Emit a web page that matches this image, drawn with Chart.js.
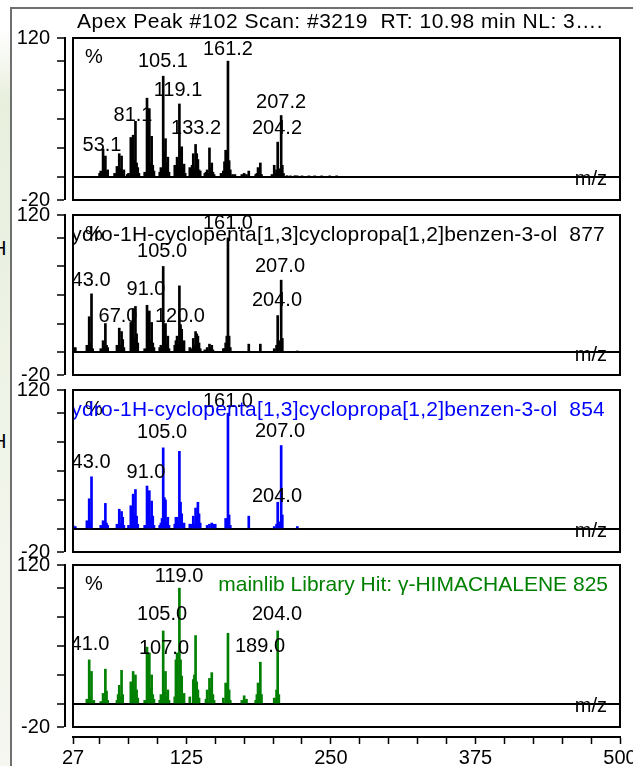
<!DOCTYPE html>
<html>
<head>
<meta charset="utf-8">
<script src="https://cdn.jsdelivr.net/npm/chart.js@4/dist/chart.umd.min.js"></script>
<style>
html, body { margin: 0; padding: 0; background: #fff; }
#page { position: relative; width: 633px; height: 766px; overflow: hidden; background: #fff; }
#shade { position: absolute; left: 0; top: 0; width: 11px; height: 766px;
  background: linear-gradient(to bottom, #ffffff 0px, #ffffff 30px, #e8efdd 100px, #eff4e8 420px, #f5f7f0 766px); }
#frame { position: absolute; left: 10px; top: 7px; width: 700px; height: 800px;
  border-left: 2px solid #6f6f6f; border-top: 2px solid #6f6f6f; }
canvas { position: absolute; left: 0; }
.cut { position: absolute; left: -8px; font: 20px 'Liberation Sans', Arial, sans-serif; line-height: 20px; color: #000; }
</style>
</head>
<body>
<div id="page">
  <div id="shade"></div>
  <div id="frame"></div>
  <div class="cut" style="top:238px">H</div>
  <div class="cut" style="top:431px">H</div>
  <canvas id="panel1" width="660" height="222" style="top:0px"></canvas>
  <canvas id="panel2" width="660" height="200" style="top:195px"></canvas>
  <canvas id="panel3" width="660" height="202" style="top:370px"></canvas>
  <canvas id="panel4" width="660" height="221" style="top:545px"></canvas>
</div>
<script>
const xMin = 27;
const xMax = 500;
const xTickValues = [27, 50, 75, 100, 125, 150, 175, 200, 225, 250, 275, 300, 325, 350, 375, 400, 425, 450, 475, 500];
const xTickLabels = [27, 125, 250, 375, 500];
const yMin = -20;
const yMax = 120;
const yTickValues = [-20, 0, 25, 50, 75, 100, 120];
const yTickLabels = [-20, 120];

// scan spectrum (apex peak #102)
const scanMz = [50, 51, 52, 53, 54, 55, 56, 57, 63, 65, 66, 67, 68, 69, 70, 71,
    74, 75, 77, 78, 79, 80, 81, 82, 83, 84, 89, 90, 91, 92, 93, 94, 95, 96, 97,
    102, 103, 104, 105, 106, 107, 108, 109, 110, 115, 116, 117, 118, 119, 120, 121, 122, 123, 124,
    128, 129, 130, 131, 132, 133, 134, 135, 136, 137, 141, 142, 143, 144, 145, 146, 147, 148, 149,
    155, 157, 158, 159, 160, 161, 162, 163, 165, 167, 173, 175, 177, 179,
    185, 186, 187, 188, 189, 190, 199, 201, 202, 203, 204, 205, 206, 207, 208, 209,
    212, 215, 219, 221, 225, 231, 236, 242, 249, 255];
const scanIntensity = [3, 5, 4, 24, 7, 18, 5, 6, 3, 9, 4, 20, 7, 18, 5, 6,
    2, 3, 34, 10, 36, 14, 48, 12, 8, 3, 4, 3, 68, 14, 59, 12, 35, 10, 5,
    4, 8, 6, 87, 22, 33, 12, 17, 4, 10, 6, 17, 8, 63, 24, 26, 8, 11, 3,
    8, 3, 10, 20, 8, 28, 20, 15, 6, 5, 3, 4, 6, 3, 25, 8, 12, 4, 2,
    3, 5, 13, 23, 10, 100, 14, 6, 2, 2, 2, 3, 2, 5,
    2, 3, 8, 3, 12, 2, 2, 10, 3, 6, 30, 7, 3, 53, 10, 3,
    1, 0.8, 1, 0.7, 0.6, 0.6, 0.5, 0.5, 0.5, 0.6];
const scanLabelText = ['161.2', '105.1', '119.1', '81.1', '53.1', '133.2', '207.2', '204.2'];
const scanLabelMz = [161.0, 104.8, 117.8, 78.9, 52.1, 133.4, 206.9, 203.4];
const scanLabelHeight = [110, 100, 75, 53, 27, 41.5, 64, 42];

// library hit 1 (877)
const hit1Mz = [27, 29, 39, 41, 42, 43, 44, 51, 53, 54, 55, 56, 57, 65, 66, 67, 68, 69, 70, 71,
    77, 78, 79, 80, 81, 82, 83, 89, 91, 92, 93, 94, 95, 96, 97,
    102, 103, 104, 105, 106, 107, 108, 109, 110, 115, 116, 117, 118, 119, 120, 121, 122, 123,
    128, 129, 131, 132, 133, 134, 135, 136, 137, 141, 143, 145, 146, 147, 148,
    157, 158, 159, 160, 161, 162, 163, 179, 189, 201, 203, 204, 205, 207, 208, 221];
const hit1Intensity = [3, 4, 6, 31, 8, 51, 3, 3, 10, 4, 25, 6, 4, 6, 3, 21, 6, 18, 11, 4,
    26, 10, 38, 12, 40, 16, 8, 3, 41, 12, 36, 10, 26, 8, 4,
    4, 6, 5, 75, 24, 25, 8, 14, 3, 6, 10, 14, 6, 58, 24, 20, 6, 10,
    4, 3, 12, 6, 18, 16, 14, 8, 3, 2, 4, 7, 4, 6, 2,
    3, 3, 8, 14, 100, 14, 4, 7, 7, 3, 6, 32, 10, 63, 12, 1];
const hit1LabelText = ['161.0', '105.0', '43.0', '91.0', '67.0', '120.0', '207.0', '204.0'];
const hit1LabelMz = [161.0, 104.0, 42.6, 90.1, 65.9, 119.5, 206.0, 203.4];
const hit1LabelHeight = [113, 88, 63, 55, 31, 31, 75, 45];

// library hit 2 (854)
const hit2Mz = [27, 29, 39, 41, 42, 43, 51, 53, 54, 55, 56, 57, 65, 67, 68, 69, 70, 71,
    75, 77, 78, 79, 80, 81, 82, 83, 89, 91, 92, 93, 94, 95, 96, 97,
    102, 103, 104, 105, 106, 107, 108, 109, 110, 115, 116, 117, 118, 119, 120, 121, 122, 123,
    128, 129, 131, 132, 133, 134, 135, 136, 137, 143, 145, 147, 148, 150,
    159, 160, 161, 162, 163, 179, 201, 203, 204, 205, 207, 208, 221];
const hit2Intensity = [3, 2, 7, 26, 5, 45, 3, 7, 3, 22, 5, 3, 4, 17, 5, 15, 10, 3,
    3, 20, 8, 30, 12, 34, 11, 4, 3, 37, 10, 33, 9, 24, 11, 3,
    3, 5, 9, 70, 27, 25, 6, 10, 3, 4, 10, 10, 5, 67, 23, 13, 4, 5,
    4, 4, 11, 4, 18, 10, 23, 13, 5, 3, 4, 5, 4, 4,
    9, 4, 100, 12, 3, 11, 2, 4, 23, 6, 72, 12, 2];
const hit2LabelText = ['161.0', '105.0', '43.0', '91.0', '207.0', '204.0'];
const hit2LabelMz = [161.0, 104.0, 42.6, 90.1, 206.0, 203.4];
const hit2LabelHeight = [110, 83, 57, 49, 84, 28];

// library hit 3 (gamma-himachalene, 825)
const hit3Mz = [39, 41, 42, 43, 45, 51, 53, 54, 55, 56, 57, 65, 66, 67, 68, 69, 70,
    77, 78, 79, 80, 81, 82, 83, 89, 91, 92, 93, 94, 95, 96, 97,
    102, 103, 104, 105, 106, 107, 108, 109, 110, 115, 116, 117, 118, 119, 120, 121, 122, 123,
    128, 131, 132, 133, 134, 135, 136, 142, 143, 145, 146, 147, 148, 149,
    157, 159, 160, 161, 162, 163, 173, 174, 175, 176, 177,
    185, 186, 187, 188, 189, 190, 201, 202, 203, 204, 205];
const hit3Intensity = [4, 38, 6, 28, 3, 2, 9, 3, 30, 11, 3, 3, 8, 16, 6, 29, 8,
    19, 6, 28, 10, 25, 12, 5, 3, 49, 14, 44, 13, 25, 8, 4,
    3, 8, 4, 63, 10, 28, 6, 12, 3, 6, 38, 44, 8, 100, 38, 24, 6, 9,
    6, 21, 25, 59, 19, 12, 5, 4, 12, 22, 14, 27, 8, 3,
    5, 18, 4, 61, 12, 3, 3, 2, 7, 3, 4,
    3, 8, 18, 6, 36, 8, 5, 4, 12, 63, 8];
const hit3LabelText = ['119.0', '105.0', '41.0', '107.0', '189.0', '204.0'];
const hit3LabelMz = [118.7, 104.0, 41.7, 105.7, 188.7, 203.4];
const hit3LabelHeight = [110, 77, 51, 48, 50, 77];

const fontFamily = "'Liberation Sans', Arial, sans-serif";
const textFont = `20px ${fontFamily}`;
const titleFont = `21px ${fontFamily}`;

const panelText = {
    id: 'panelText',
    afterDraw(chart, args, opts) {
        const { ctx, chartArea: area } = chart;
        const x = chart.scales.x;
        const y = chart.scales.y;

        const drawTitle = () => {
            ctx.save();
            ctx.font = titleFont;
            ctx.letterSpacing = opts.titleSpacing;
            ctx.fillStyle = opts.titleColor;
            ctx.textAlign = opts.titleAlign;
            ctx.fillText(opts.title, opts.titleX, area.top + opts.titleDy);
            ctx.restore();
        };

        ctx.save();
        ctx.font = textFont;
        ctx.textBaseline = 'middle';

        if (!opts.titleInside) {
            drawTitle();
        }

        ctx.beginPath();
        ctx.rect(area.left, area.top, area.right - area.left, area.bottom - area.top);
        ctx.clip();

        ctx.fillStyle = '#000';
        ctx.textAlign = 'left';
        ctx.fillText('%', area.left + 12, area.top + 19);

        ctx.textAlign = 'center';
        opts.labelText.forEach((text, i) => {
            ctx.fillText(text, x.getPixelForValue(opts.labelMz[i]), y.getPixelForValue(opts.labelHeight[i]));
        });

        if (opts.titleInside) {
            drawTitle();
        }

        ctx.fillStyle = '#000';
        ctx.textAlign = 'right';
        ctx.fillText('m/z', 607, y.getPixelForValue(0) + 3);
        ctx.restore();

        ctx.save();
        ctx.strokeStyle = '#000';
        ctx.lineWidth = 2;
        ctx.strokeRect(area.left, area.top, area.right - area.left, area.bottom - area.top);
        ctx.restore();
    },
};

function spectrumPanel(canvasId, mz, intensity, look) {
    const scales = {
        x: {
            type: 'linear',
            position: 'bottom',
            weight: 1,
            min: xMin,
            max: xMax,
            offset: false,
            display: look.showX,
            afterBuildTicks: (scale) => {
                scale.ticks = xTickValues.map((value) => ({ value }));
            },
            afterFit: (scale) => {
                scale.height = look.showX ? 29 : 0;
            },
            border: { display: true, color: '#000', width: 2 },
            grid: {
                offset: false,
                drawOnChartArea: false,
                drawTicks: true,
                tickLength: 7,
                tickColor: '#000',
                tickWidth: 1.5,
            },
            ticks: {
                autoSkip: false,
                maxRotation: 0,
                padding: 2,
                color: '#000',
                font: { family: fontFamily, size: 20 },
                callback: (value) => (xTickLabels.includes(value) ? String(value) : ''),
            },
        },
        y: {
            type: 'linear',
            position: 'left',
            weight: 1,
            min: yMin,
            max: yMax,
            afterBuildTicks: (scale) => {
                scale.ticks = yTickValues.map((value) => ({ value }));
            },
            afterFit: (scale) => {
                scale.width = 65;
            },
            border: { display: true, color: '#000', width: 2 },
            grid: {
                drawOnChartArea: true,
                drawTicks: true,
                tickLength: 8,
                tickColor: '#000',
                tickWidth: 1.5,
                color: (ctx) => (ctx.tick && ctx.tick.value === 0 ? '#000' : 'rgba(0,0,0,0)'),
                lineWidth: (ctx) => (ctx.tick && ctx.tick.value === 0 ? 2 : 0),
            },
            ticks: {
                autoSkip: false,
                padding: 7,
                color: '#000',
                font: { family: fontFamily, size: 20 },
                callback: (value) => (yTickLabels.includes(value) ? String(value) : ''),
            },
        },
        yGap: {
            axis: 'y',
            type: 'linear',
            position: 'left',
            weight: 0,
            display: true,
            grid: { display: false },
            border: { display: false },
            ticks: { display: false },
            afterFit: (scale) => {
                scale.width = 8;
            },
        },
    };

    if (look.showX) {
        scales.xGap = {
            axis: 'x',
            type: 'linear',
            position: 'bottom',
            weight: 0,
            display: true,
            grid: { display: false },
            border: { display: false },
            ticks: { display: false },
            afterFit: (scale) => {
                scale.height = 10;
            },
        };
    }

    return new Chart(document.getElementById(canvasId), {
        type: 'bar',
        data: {
            datasets: [{
                data: mz.map((m, i) => ({ x: m, y: intensity[i] })),
                xAxisID: 'x',
                yAxisID: 'y',
                backgroundColor: look.color,
                borderWidth: 0,
                barThickness: 2,
            }],
        },
        options: {
            responsive: false,
            animation: false,
            devicePixelRatio: 1,
            events: [],
            layout: { padding: look.padding },
            scales,
            plugins: {
                legend: { display: false },
                tooltip: { enabled: false },
                panelText: look.text,
            },
        },
        plugins: [panelText],
    });
}

spectrumPanel('panel1', scanMz, scanIntensity, {
    color: '#000',
    showX: false,
    padding: { left: 0, right: 40, top: 38, bottom: 22 },
    text: {
        title: 'Apex Peak #102 Scan: #3219  RT: 10.98 min NL: 3….',
        titleColor: '#000', titleAlign: 'left', titleX: 77, titleDy: -16, titleInside: false, titleSpacing: '0.5px',
        labelText: scanLabelText, labelMz: scanLabelMz, labelHeight: scanLabelHeight,
    },
});

spectrumPanel('panel2', hit1Mz, hit1Intensity, {
    color: '#000',
    showX: false,
    padding: { left: 0, right: 40, top: 20, bottom: 20 },
    text: {
        title: 'ydro-1H-cyclopenta[1,3]cyclopropa[1,2]benzen-3-ol  877',
        titleColor: '#000', titleAlign: 'right', titleX: 605, titleDy: 20, titleInside: true, titleSpacing: '0.2px',
        labelText: hit1LabelText, labelMz: hit1LabelMz, labelHeight: hit1LabelHeight,
    },
});

spectrumPanel('panel3', hit2Mz, hit2Intensity, {
    color: '#0000ff',
    showX: false,
    padding: { left: 0, right: 40, top: 20, bottom: 20 },
    text: {
        title: 'ydro-1H-cyclopenta[1,3]cyclopropa[1,2]benzen-3-ol  854',
        titleColor: '#0000ff', titleAlign: 'right', titleX: 605, titleDy: 20, titleInside: true, titleSpacing: '0.2px',
        labelText: hit2LabelText, labelMz: hit2LabelMz, labelHeight: hit2LabelHeight,
    },
});

spectrumPanel('panel4', hit3Mz, hit3Intensity, {
    color: '#008000',
    showX: true,
    padding: { left: 0, right: 40, top: 20, bottom: 0 },
    text: {
        title: 'mainlib Library Hit: γ-HIMACHALENE 825',
        titleColor: '#008000', titleAlign: 'right', titleX: 608, titleDy: 20, titleInside: true, titleSpacing: '0px',
        labelText: hit3LabelText, labelMz: hit3LabelMz, labelHeight: hit3LabelHeight,
    },
});
</script>
</body>
</html>
